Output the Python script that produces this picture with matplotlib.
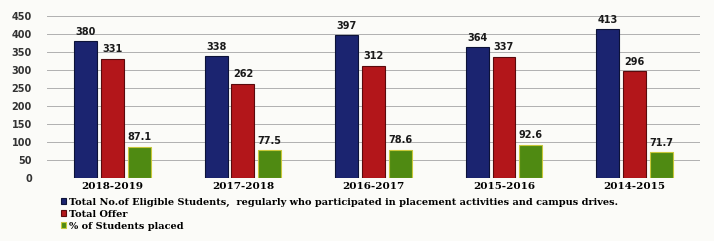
import matplotlib.pyplot as plt
import numpy as np

# 数据
years = ['2018-2019', '2017-2018', '2016-2017', '2015-2016', '2014-2015']
eligible = [380, 338, 397, 364, 413]
offers = [331, 262, 312, 337, 296]
placed_pct = [87.1, 77.5, 78.6, 92.6, 71.7]

series_names = ['Total No.of Eligible Students,  regularly who participated in placement activities and campus drives.',
                'Total Offer',
                '% of Students placed']
colors = ['#1b2470', '#b3161a', '#4f8a12']
edges = ['#0c1238', '#5a0a0c', '#c8c83a']

fig = plt.figure(figsize=(7.14, 2.41), dpi=100)
fig.patch.set_facecolor('#fbfbf8')
ax = fig.add_axes([0.066, 0.261, 0.914, 0.673])
ax.set_facecolor('#fbfbf8')

x = np.arange(len(years))
w = 0.175
step = 0.205
for i, vals in enumerate([eligible, offers, placed_pct]):
    b = ax.bar(x + (i - 1) * step, vals, width=w, color=colors[i],
               edgecolor=edges[i], linewidth=0.8, label=series_names[i], zorder=3)
    for rect, v in zip(b, vals):
        ax.text(rect.get_x() + rect.get_width() / 2, v + 12, f'{v:g}',
                ha='center', va='bottom', fontsize=7, fontweight='bold', color='#1a1a1a')

ax.set_xlim(-0.5, len(years) - 0.5)
ax.set_ylim(0, 450)
ax.set_yticks(range(0, 451, 50))
ax.set_xticks(x)
ax.set_xticklabels(years, fontsize=7.5, fontweight='bold', family='DejaVu Serif')
ax.tick_params(axis='y', labelsize=7, length=0, pad=11, labelcolor='#333333')
ax.tick_params(axis='x', length=0, pad=3)
for lab in ax.get_yticklabels():
    lab.set_fontweight('bold')
ax.grid(axis='y', color='#b0b0b0', linewidth=0.7, zorder=0)
for s in ax.spines.values():
    s.set_visible(False)

fig.legend(loc='upper left', bbox_to_anchor=(0.078, 0.2), frameon=False,
           handlelength=0.6, handleheight=0.6, handletextpad=0.3,
           labelspacing=0.3, borderpad=0,
           prop={'family': 'DejaVu Serif', 'weight': 'bold', 'size': 7})

plt.savefig('out.png', dpi=100, facecolor=fig.get_facecolor())
